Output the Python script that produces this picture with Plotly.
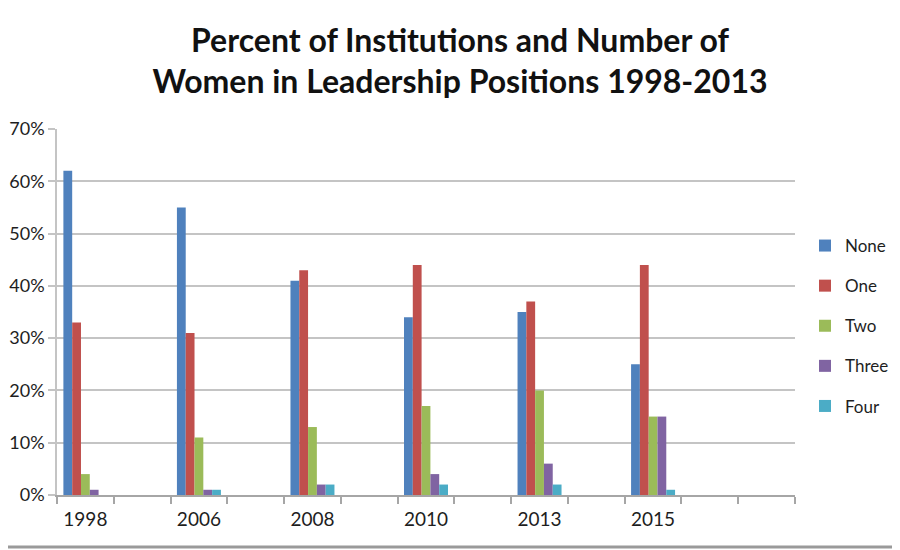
import plotly.graph_objects as go

# Dados (percentuais)
anos = ["1998", "2006", "2008", "2010", "2013", "2015"]
series = ["None", "One", "Two", "Three", "Four"]
val_none = [62, 55, 41, 34, 35, 25]
val_one = [33, 31, 43, 44, 37, 44]
val_two = [4, 11, 13, 17, 20, 15]
val_three = [1, 1, 2, 4, 6, 15]
val_four = [0, 1, 2, 2, 2, 1]
cores = ["#4F81BD", "#C0504D", "#9BBB59", "#8064A2", "#4BACC6"]

# eixo de categorias: cada ano seguido de uma categoria vazia, mais uma no fim
categorias = []
for i, ano in enumerate(anos):
    categorias.append(ano)
    categorias.append(" " * (i + 1))
categorias.append(" " * (len(anos) + 1))

fonte = "Lato"
texto = "#1e1e1e"
grade = "#c4c4c4"

# a página tem 8px de margem no body, por isso as margens descontam 8px
W, H = 900, 550
ML, MT, MB = 49, 121, 63
MR = W - 787
PW, PH = W - ML - MR, H - MT - MB

fig = go.Figure()
for nome, valores, cor in zip(series, [val_none, val_one, val_two, val_three, val_four], cores):
    fig.add_trace(go.Bar(
        x=anos, y=valores, name=nome, legendgroup=nome,
        marker=dict(color=cor, line=dict(width=0)),
    ))

fig.update_layout(
    width=W, height=H,
    margin=dict(l=ML, r=MR, t=MT, b=MB),
    paper_bgcolor="white", plot_bgcolor="white",
    barmode="group", bargap=0.225, bargroupgap=0,
    font=dict(family=fonte, color=texto, size=19),
    title=dict(
        text="Percent of Institutions and Number of<br>Women in Leadership Positions 1998-2013",
        x=452 / W, xanchor="center", xref="container",
        y=1 - 43.5 / H, yanchor="middle", yref="container",
        font=dict(family=fonte, size=32, color="#111", weight="bold"),
    ),
    legend=dict(
        x=797 / W, xref="container", xanchor="left",
        y=1 - 318 / H, yref="container", yanchor="middle",
        font=dict(size=17, color=texto),
        tracegroupgap=15, itemwidth=30, bgcolor="rgba(0,0,0,0)",
    ),
    showlegend=True,
)

fig.update_xaxes(
    type="category", categoryorder="array", categoryarray=categorias,
    range=[-0.5, len(categorias) - 0.5], automargin=False, tickangle=0,
    tickson="boundaries", ticks="outside", ticklen=7, tickcolor="#a6a6a6", tickwidth=1.5,
    showline=True, linecolor="#a6a6a6", linewidth=1.5,
    showgrid=False, tickfont=dict(size=19, color=texto), ticklabelstandoff=6,
)
fig.update_yaxes(
    range=[0, 70], dtick=10, ticksuffix="%", automargin=False,
    ticks="outside", ticklen=7, tickcolor=grade, tickwidth=1.5,
    showline=True, linecolor=grade, linewidth=1.5,
    showgrid=True, gridcolor=grade, gridwidth=1.5,
    zeroline=False, tickfont=dict(size=18, color=texto),
)

# borda cinza do print original (base)
yb = (H - MB - 539) / PH
fig.add_shape(type="line", xref="paper", yref="paper",
              x0=-ML / PW, x1=(W - ML) / PW, y0=yb, y1=yb,
              line=dict(color="#9a9a9a", width=3))

fig.write_html("out.html")
